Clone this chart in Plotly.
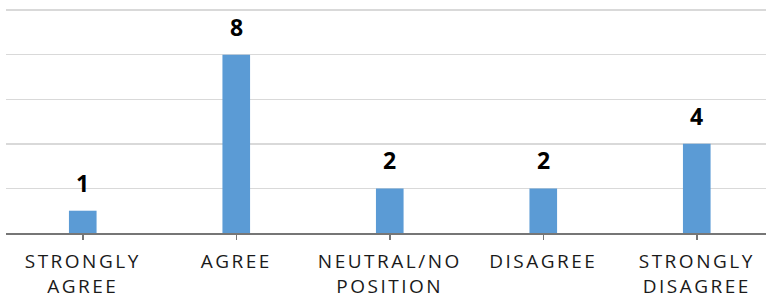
import plotly.graph_objects as go

categories = ["STRONGLY AGREE", "AGREE", "NEUTRAL/NO POSITION", "DISAGREE", "STRONGLY DISAGREE"]
tick_labels = ["STRONGLY<br>AGREE", "AGREE", "NEUTRAL/NO<br>POSITION", "DISAGREE", "STRONGLY<br>DISAGREE"]
counts = [1, 8, 2, 2, 4]

BAR = "#5B9BD5"

fig = go.Figure()
fig.add_trace(go.Bar(
    x=categories, y=counts, marker=dict(color=BAR, line=dict(width=0)),
    width=0.18, hoverinfo="skip", showlegend=False,
))

for c, v in zip(categories, counts):
    fig.add_annotation(
        x=c, y=v, text=str(v), showarrow=False, yanchor="bottom", yshift=10,
        font=dict(family="Open Sans", size=23, color="#000000", weight=700),
    )

fig.update_layout(
    width=766, height=299,
    margin=dict(l=6, r=0, t=9, b=66),
    paper_bgcolor="white", plot_bgcolor="white",
    xaxis=dict(
        type="category", range=[-0.5, 4.451],
        tickmode="array", tickvals=categories, ticktext=tick_labels,
        showgrid=False, zeroline=False,
        showline=True, linecolor="#767676", linewidth=1.5,
        ticks="outside", ticklen=5, tickcolor="#767676", tickwidth=1.5,
        tickfont=dict(family="Open Sans", size=19, color="#1a1a1a"),
        ticklabelstandoff=6,
    ),
    xaxis2=dict(
        type="category", overlaying="x", matches="x", side="bottom",
        range=[-0.5, 4.451], tickmode="array", tickvals=categories,
        showticklabels=False, showgrid=False, zeroline=False, showline=False,
        ticks="inside", ticklen=5, tickcolor="#767676", tickwidth=1.5,
    ),
    yaxis=dict(
        range=[0, 10.05], tickvals=[0, 2, 4, 6, 8, 10], showgrid=True,
        gridcolor="#D9D9D9", gridwidth=1.5,
        showticklabels=False, zeroline=False, showline=False, ticks="",
    ),
)

post = (
    "var s=document.createElement('style');"
    "s.textContent='html,body{margin:0;padding:0;overflow:hidden;} .xtick text{letter-spacing:2.5px;}';"
    "document.head.appendChild(s);"
)
fig.write_html("out.html", post_script=post, config={"displayModeBar": False, "staticPlot": True})
